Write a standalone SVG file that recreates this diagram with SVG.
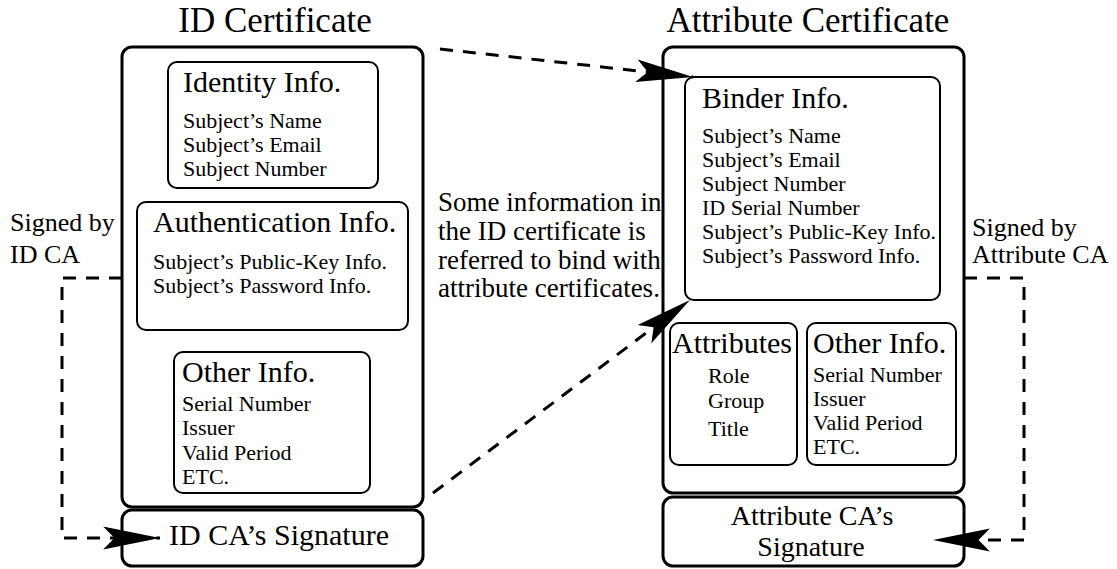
<svg xmlns="http://www.w3.org/2000/svg" width="1117" height="569" viewBox="0 0 1117 569">
  <style>
    text { font-family: "Liberation Serif", "Times New Roman", serif; fill: #000; }
    .title { font-size: 35px; }
    .head { font-size: 30px; }
    .item { font-size: 22px; }
    .note { font-size: 27px; }
    .side { font-size: 26px; }
    .sig { font-size: 30px; }
    .sig2 { font-size: 28px; }
    .outer { fill: #fff; stroke: #000; stroke-width: 3; }
    .inner { fill: #fff; stroke: #000; stroke-width: 2; }
    .link { fill: none; stroke: #000; stroke-width: 3; stroke-dasharray: 13 10; }
  </style>
  <defs>
    <marker id="barb" markerUnits="userSpaceOnUse" markerWidth="60" markerHeight="30" viewBox="-56 -13 58 26" refX="0" refY="0" orient="auto">
      <path d="M0,0 L-55,-11 L-44,0 L-55,11 Z" fill="#000"/>
    </marker>
  </defs>

  <!-- ID certificate -->
  <g id="id-cert">
    <text class="title" x="275" y="32" text-anchor="middle">ID Certificate</text>
    <rect class="outer" x="122" y="47" width="301" height="460" rx="10"/>
  </g>
  <g id="identity-info">
    <rect class="inner" x="168" y="62" width="210" height="126" rx="9"/>
    <text class="head" x="183" y="92">Identity Info.</text>
    <text class="item" x="183" y="128">Subject’s Name</text>
    <text class="item" x="183" y="152">Subject’s Email</text>
    <text class="item" x="183" y="176">Subject Number</text>
  </g>
  <g id="auth-info">
    <rect class="inner" x="137" y="202" width="271" height="128" rx="9"/>
    <text class="head" x="153" y="232">Authentication Info.</text>
    <text class="item" x="153" y="269">Subject’s Public-Key Info.</text>
    <text class="item" x="153" y="293">Subject’s Password Info.</text>
  </g>
  <g id="id-other-info">
    <rect class="inner" x="174" y="352" width="196" height="141" rx="9"/>
    <text class="head" x="182" y="382">Other Info.</text>
    <text class="item" x="182" y="411">Serial Number</text>
    <text class="item" x="182" y="435">Issuer</text>
    <text class="item" x="182" y="460">Valid Period</text>
    <text class="item" x="182" y="484">ETC.</text>
  </g>
  <g id="id-signature">
    <rect class="outer" x="122" y="510" width="301" height="56" rx="10"/>
    <text class="sig" x="279" y="545" text-anchor="middle">ID CA’s Signature</text>
  </g>
  <g id="id-signed-label">
    <text class="side" x="10" y="231">Signed by</text>
    <text class="side" x="10" y="263">ID CA</text>
  </g>

  <!-- middle note -->
  <g id="note">
    <text class="note" x="438" y="211">Some information in</text>
    <text class="note" x="438" y="240">the ID certificate is</text>
    <text class="note" x="438" y="269">referred to bind with</text>
    <text class="note" x="438" y="297">attribute certificates.</text>
  </g>

  <!-- Attribute certificate -->
  <g id="attr-cert">
    <text class="title" x="808" y="32" text-anchor="middle">Attribute Certificate</text>
    <rect class="outer" x="663" y="47" width="301" height="446" rx="10"/>
  </g>
  <g id="binder-info">
    <rect class="inner" x="685" y="77" width="255" height="223" rx="9"/>
    <text class="head" x="702" y="108">Binder Info.</text>
    <text class="item" x="702" y="143">Subject’s Name</text>
    <text class="item" x="702" y="167">Subject’s Email</text>
    <text class="item" x="702" y="191">Subject Number</text>
    <text class="item" x="702" y="215">ID Serial Number</text>
    <text class="item" x="702" y="239">Subject’s Public-Key Info.</text>
    <text class="item" x="702" y="263">Subject’s Password Info.</text>
  </g>
  <g id="attributes">
    <rect class="inner" x="670" y="323" width="127" height="142" rx="9"/>
    <text class="head" x="672" y="353">Attributes</text>
    <text class="item" x="708" y="383">Role</text>
    <text class="item" x="708" y="408">Group</text>
    <text class="item" x="708" y="436">Title</text>
  </g>
  <g id="attr-other-info">
    <rect class="inner" x="807" y="323" width="149" height="142" rx="9"/>
    <text class="head" x="813" y="353">Other Info.</text>
    <text class="item" x="813" y="382">Serial Number</text>
    <text class="item" x="813" y="406">Issuer</text>
    <text class="item" x="813" y="430">Valid Period</text>
    <text class="item" x="813" y="454">ETC.</text>
  </g>
  <g id="attr-signature">
    <rect class="outer" x="663" y="497" width="301" height="69" rx="10"/>
    <text class="sig2" x="812" y="525" text-anchor="middle">Attribute CA’s</text>
    <text class="sig2" x="811" y="556" text-anchor="middle">Signature</text>
  </g>
  <g id="attr-signed-label">
    <text class="side" x="972" y="236">Signed by</text>
    <text class="side" x="972" y="263">Attribute CA</text>
  </g>

  <!-- connectors -->
  <g id="connectors">
    <polyline class="link" points="122,278 62,278 62,538 160,538" marker-end="url(#barb)"/>
    <polyline class="link" points="964,278 1024,278 1024,540 933,540" marker-end="url(#barb)"/>
    <line class="link" x1="440" y1="49" x2="693" y2="77" marker-end="url(#barb)"/>
    <line class="link" x1="433" y1="493" x2="690" y2="300" marker-end="url(#barb)"/>
  </g>
</svg>
